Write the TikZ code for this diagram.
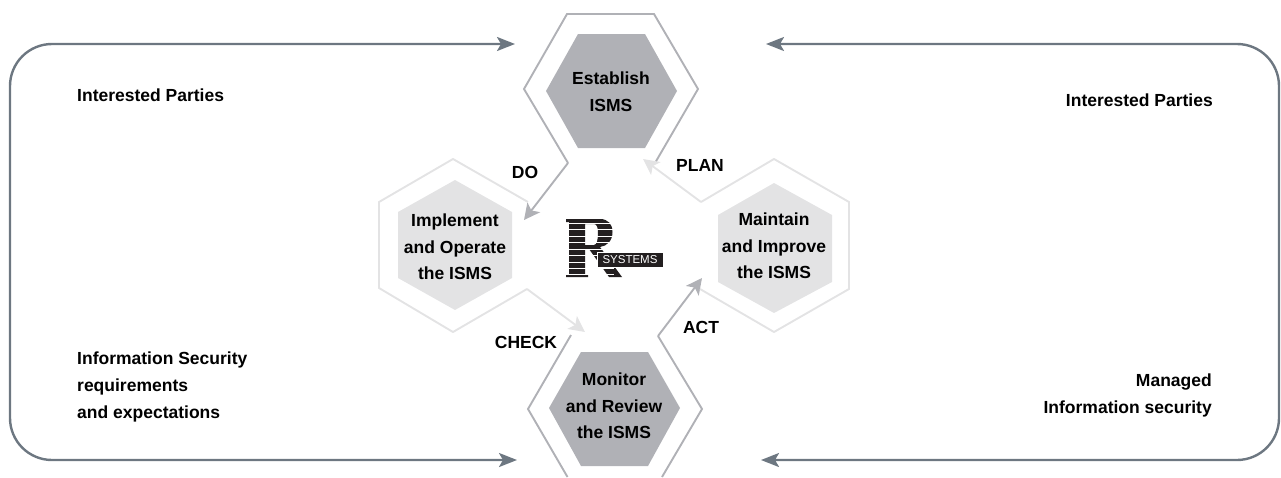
\documentclass[tikz,border=0pt]{standalone}
\usepackage{fontspec}
\setmainfont{Liberation Sans}
\usetikzlibrary{arrows.meta}
\definecolor{flow}{HTML}{6D7781}
\definecolor{darkhex}{HTML}{B0B1B6}
\definecolor{lighthex}{HTML}{E3E3E4}
\definecolor{logoink}{HTML}{231F20}
\tikzset{
  lbl/.style={font=\fontsize{17.5}{26.7}\selectfont\bfseries, text=black, inner sep=0pt},
  hextxt/.style={lbl, align=center},
  flowline/.style={draw=flow, line width=2.4pt, rounded corners=42pt, {Stealth[length=18pt,width=14pt,inset=4pt]}-{Stealth[length=18pt,width=14pt,inset=4pt]}},
  darkout/.style={draw=darkhex, line width=1.9pt, line join=miter},
  lightout/.style={draw=lighthex, line width=1.9pt, line join=miter},
  hextip/.style={-{Stealth[length=16pt,width=16pt,inset=4pt]}},
}
\begin{document}
\begin{tikzpicture}[x=1pt,y=-1pt]
\useasboundingbox (0,0) rectangle (1281,477);
% outer flows
\coordinate (fa) at (10,44); \coordinate (fb) at (10,460);
\coordinate (ga) at (1279,44); \coordinate (gb) at (1279,460);
\coordinate (tl) at (515,44); \coordinate (bl) at (517,460);
\coordinate (tr) at (766,44); \coordinate (br) at (761,460);
\draw[flowline] (tl) -- (fa) -- (fb) -- (bl);
\draw[flowline] (tr) -- (ga) -- (gb) -- (br);
% inner hexagons
\fill[darkhex] (578,34) -- (645,34) -- (677,91) -- (645,148) -- (578,148) -- (546,91) -- cycle;
\fill[darkhex] (581,352) -- (648,352) -- (680,408) -- (648,466) -- (581,466) -- (549,408) -- cycle;
\fill[lighthex] (455,180) -- (512,212) -- (512,278) -- (455,310) -- (398,278) -- (398,212) -- cycle;
\fill[lighthex] (774,183) -- (832,215) -- (832,282) -- (774,313) -- (718,282) -- (718,215) -- cycle;
% outer hexagon arrows
\coordinate (doTip) at (524,220);
\coordinate (planTip) at (643,159);
\coordinate (checkTip) at (585,332);
\coordinate (actTip) at (702,278);
\draw[darkout] (655,163) -- (698,89) -- (654,14) -- (567,14) -- (524,89) -- (568,163);
\draw[darkout,hextip] (568,163) -- (doTip);
\draw[darkout] (571,335) -- (528,409) -- (567.5,477);
\draw[darkout] (662,477) -- (702,409) -- (658,336);
\draw[darkout,hextip] (658,336) -- (actTip);
\draw[lightout] (528,202) -- (453,159) -- (379,202) -- (379,288) -- (453,332) -- (527,289);
\draw[lightout,hextip] (527,289) -- (checkTip);
\draw[lightout] (700,289) -- (774,332) -- (849,289) -- (849,202) -- (774,159) -- (701,202);
\draw[lightout,hextip] (701,202) -- (planTip);
% logo: striped R
\fill[logoink,even odd rule]
  (566,219) -- (600,219) .. controls (608,219) and (612.5,224) .. (612.5,232)
  .. controls (612.5,241) and (607,246) .. (600,247) -- (622,277) -- (609,277)
  -- (589,249) -- (585,249) -- (585,274) -- (588,274) -- (588,277) -- (566,277)
  -- (566,274) -- (569,274) -- (569,222) -- (566,222) -- cycle
  (585,224) -- (594,224) .. controls (597,224) and (598,228) .. (598,233)
  .. controls (598,239) and (597,245) .. (594,245) -- (585,245) -- cycle;
\foreach \yy in {222.5,229,235.5,242,248.5,255,261.5,268,273.5}
  \fill[white] (564,\yy) rectangle (614,\yy+1.3);
\node[fill=logoink, draw=white, line width=1pt, inner sep=0pt, minimum width=66pt, minimum height=15pt, text=white, font=\fontsize{11.5}{12}\selectfont] (logobox) at (630,259.5) {SYSTEMS};
% labels
\node[lbl, anchor=west] (ip1) at (77,95) {Interested Parties};
\node[lbl, anchor=east] (ip2) at (1213,100) {Interested Parties};
\node[hextxt, anchor=north west, align=left] (req) at (77,352) {Information Security\\requirements\\and expectations};
\node[hextxt, anchor=north east, align=right] (man) at (1212,374) {Managed\\Information security};
\node[hextxt] (est) at (611,92) {Establish\\ISMS};
\node[hextxt] (impl) at (455,247) {Implement\\and Operate\\the ISMS};
\node[hextxt] (mai) at (774,246) {Maintain\\and Improve\\the ISMS};
\node[hextxt] (mon) at (614,406) {Monitor\\and Review\\the ISMS};
\node[lbl] (do) at (525,172) {DO};
\node[lbl] (plan) at (700,165) {PLAN};
\node[lbl] (chk) at (526,342) {CHECK};
\node[lbl] (act) at (701,327) {ACT};
\end{tikzpicture}
\end{document}
